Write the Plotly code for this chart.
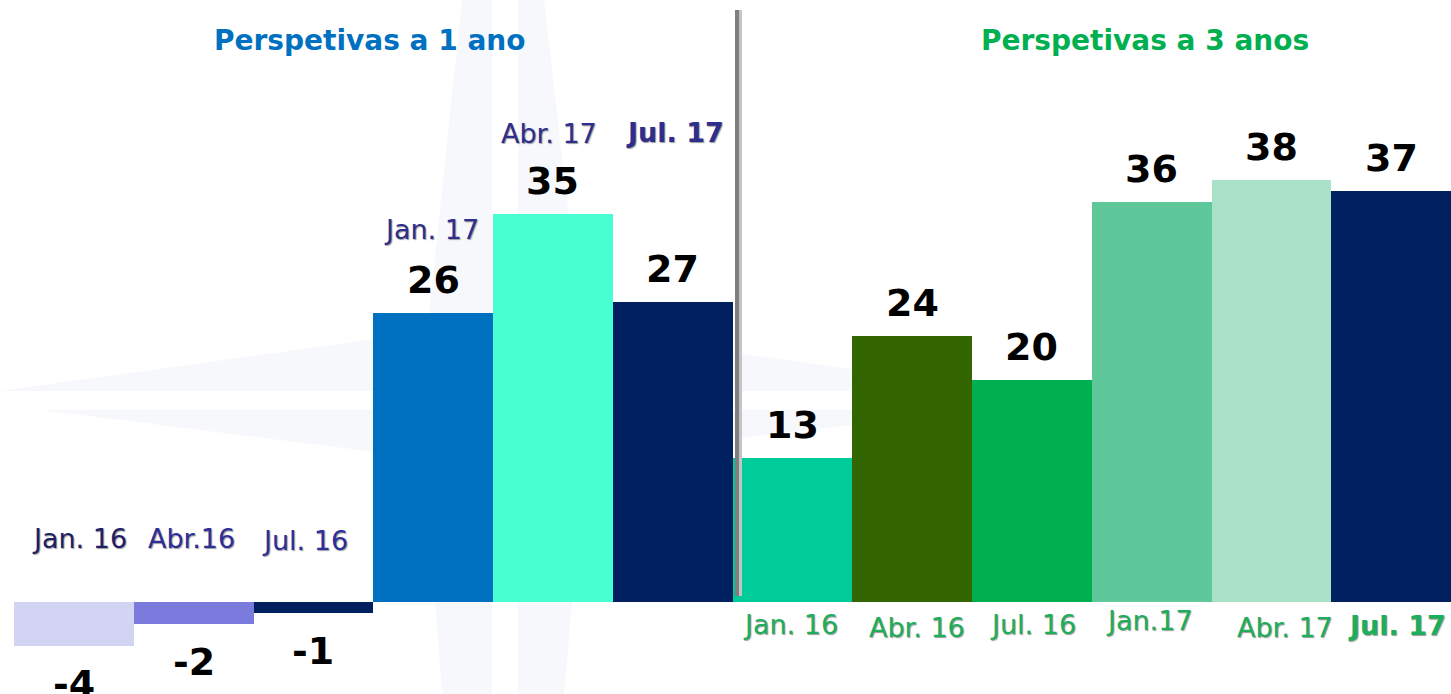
import plotly.graph_objects as go

# ---- data ----
labels_1ano = ["Jan. 16", "Abr.16", "Jul. 16", "Jan. 17", "Abr. 17", "<b>Jul. 17</b>"]
labels_3anos = ["Jan. 16", "Abr. 16", "Jul. 16", "Jan.17", "Abr. 17", "<b>Jul. 17</b>"]
values_1ano = [-4, -2, -1, 26, 35, 27]
values_3anos = [13, 24, 20, 36, 38, 37]
colors_1ano = ["#D3D3F3", "#7B7BDE", "#002060", "#0070C0", "#48FFD2", "#002060"]
colors_3anos = ["#00CC99", "#336600", "#00B050", "#5EC89B", "#A9E2C8", "#002060"]
title_1ano = "Perspetivas a 1 ano"
title_3anos = "Perspetivas a 3 anos"

W, H = 1451, 694
L = 14
PW = W - L
ZERO_PX = 602.0
PX_PER_UNIT = 11.1


def py(px):
    """screen pixel y -> paper y"""
    return 1 - px / H


def pxx(px):
    """screen pixel x -> paper x"""
    return (px - L) / PW


def poly(points):
    d = "M " + " L ".join(f"{pxx(a):.5f},{py(b):.5f}" for a, b in points) + " Z"
    return dict(type="path", xref="paper", yref="paper", path=d, layer="below",
                fillcolor="#F7F8FC", line=dict(width=0))


x1 = list(range(len(values_1ano)))
x2 = [len(values_1ano) + i for i in range(len(values_3anos))]

fig = go.Figure()
fig.add_trace(go.Bar(x=x1, y=values_1ano, width=1.0,
                     marker=dict(color=colors_1ano, line=dict(width=0)),
                     hoverinfo="skip", showlegend=False))
fig.add_trace(go.Bar(x=x2, y=values_3anos, width=1.0,
                     marker=dict(color=colors_3anos, line=dict(width=0)),
                     hoverinfo="skip", showlegend=False))

ann = []
value_font = dict(family="DejaVu Sans", size=38, color="#000000")
for x, v in zip(x1 + x2, values_1ano + values_3anos):
    ann.append(dict(x=x, y=v, xref="x", yref="y", text=f"<b>{v}</b>",
                    showarrow=False, font=value_font, yanchor="middle", xanchor="center",
                    yshift=33 if v >= 0 else -38))

shadow = "1px 1px 1px #9a9a9a"
left_lab_y = [538, 538, 540, 229, 133, 132]
left_lab_dx = [6, -2, -8, -2, -4, 2]
left_colors = ["#1F1F66", "#2E2E99", "#2E2E99", "#2E2E8C", "#2E2E8C", "#2E2E8C"]
for x, t, ypx, dx, c in zip(x1, labels_1ano, left_lab_y, left_lab_dx, left_colors):
    ann.append(dict(x=x, y=py(ypx), xref="x", yref="paper", text=t, showarrow=False,
                    xshift=dx, yanchor="middle", xanchor="center",
                    font=dict(family="DejaVu Sans", size=27, color=c, shadow=shadow)))

right_lab_y = [624, 627, 624, 620, 627, 625]
right_lab_dx = [-2, 5, 1, -2, 14, 6]
for x, t, ypx, dx in zip(x2, labels_3anos, right_lab_y, right_lab_dx):
    ann.append(dict(x=x, y=py(ypx), xref="x", yref="paper", text=t, showarrow=False,
                    xshift=dx, yanchor="middle", xanchor="center",
                    font=dict(family="DejaVu Sans", size=27, color="#1DAE5C", shadow=shadow)))

ann.append(dict(x=pxx(370), y=py(40), xref="paper", yref="paper", text=f"<b>{title_1ano}</b>",
                showarrow=False, yanchor="middle", xanchor="center",
                font=dict(family="DejaVu Sans", size=28, color="#0070C0")))
ann.append(dict(x=pxx(1145), y=py(40), xref="paper", yref="paper", text=f"<b>{title_3anos}</b>",
                showarrow=False, yanchor="middle", xanchor="center",
                font=dict(family="DejaVu Sans", size=28, color="#00B050")))

ymax = ZERO_PX / PX_PER_UNIT
ymin = -(H - ZERO_PX) / PX_PER_UNIT

# faint compass-star watermark in the background
watermark = [
    poly([(462, 0), (492, 0), (492, 400), (420, 400)]),
    poly([(518, 0), (544, 0), (590, 400), (518, 400)]),
    poly([(420, 400), (492, 400), (492, 694), (442, 694)]),
    poly([(518, 400), (590, 400), (564, 694), (518, 694)]),
    poly([(0, 391), (440, 330), (440, 391)]),
    poly([(41, 410), (440, 410), (440, 460)]),
    poly([(570, 330), (1010, 391), (570, 391)]),
    poly([(570, 410), (980, 410), (570, 458)]),
]

fig.update_layout(
    width=W, height=H,
    margin=dict(l=L, r=0, t=0, b=0),
    paper_bgcolor="white", plot_bgcolor="rgba(0,0,0,0)",
    bargap=0,
    xaxis=dict(range=[-0.5, 11.5], visible=False, fixedrange=True),
    yaxis=dict(range=[ymin, ymax], visible=False, fixedrange=True),
    annotations=ann,
    shapes=watermark + [
        dict(type="line", xref="paper", yref="paper",
             x0=pxx(739), x1=pxx(739), y0=py(596), y1=py(10),
             line=dict(color="#C4C4C4", width=6)),
        dict(type="line", xref="paper", yref="paper",
             x0=pxx(737), x1=pxx(737), y0=py(596), y1=py(10),
             line=dict(color="#7F7F7F", width=4)),
    ],
)

fig.write_html(
    "out.html",
    config={"displayModeBar": False},
    post_script="document.body.style.margin='0';"
                "document.documentElement.style.overflow='hidden';"
                "document.body.style.overflow='hidden';",
)
